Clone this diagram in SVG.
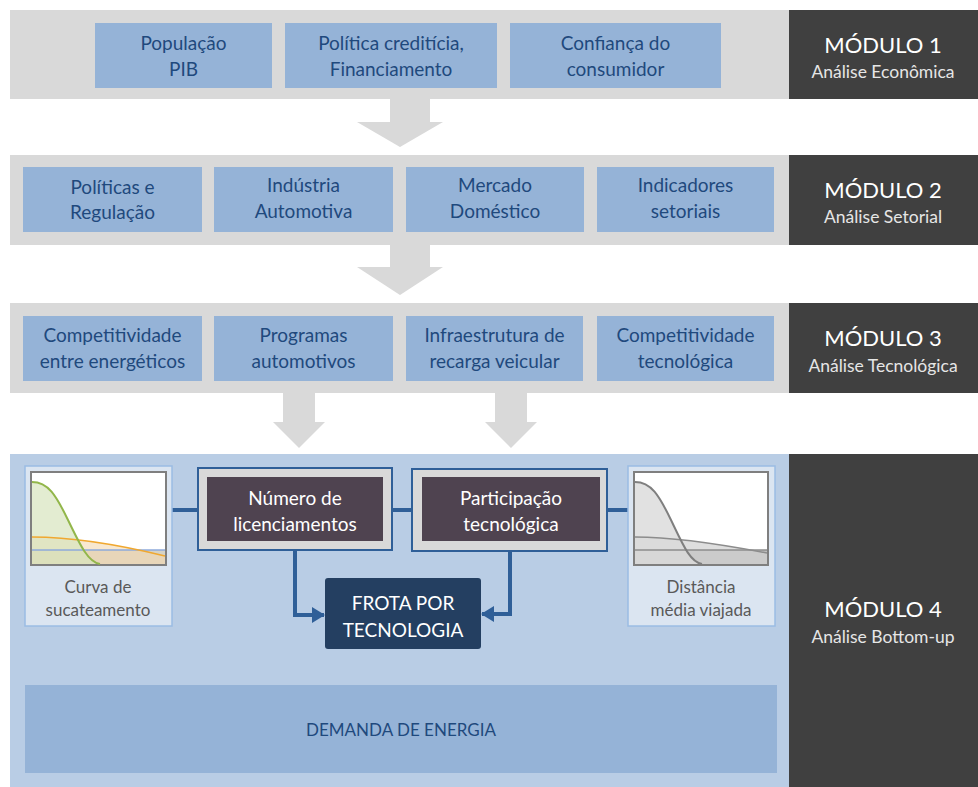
<svg xmlns="http://www.w3.org/2000/svg" width="978" height="787" viewBox="0 0 978 787">
<defs>
<style>
.band{fill:#d9d9d9}
.box{fill:#95b3d7}
.bt{font-family:Lato,"Liberation Sans",sans-serif;font-size:19px;fill:#1f497d;text-anchor:middle}
.dark{fill:#404040}
.mt{font-family:Lato,"Liberation Sans",sans-serif;font-size:22px;fill:#ffffff;text-anchor:middle}
.ms{font-family:Lato,"Liberation Sans",sans-serif;font-size:17.5px;fill:#e6e6e6;text-anchor:middle}
.garrow{fill:#d9d9d9}
.frame{fill:#d9d9d9;stroke:#2f5f98;stroke-width:2}
.inner{fill:#4f4350}
.wt{font-family:Lato,"Liberation Sans",sans-serif;font-size:19px;fill:#ffffff;text-anchor:middle}
.chartbox{fill:#dbe5f1;stroke:#9bbce3;stroke-width:1.5}
.chart{fill:#ffffff;stroke:#7f7f7f;stroke-width:2}
.ct{font-family:Lato,"Liberation Sans",sans-serif;font-size:17px;fill:#595959;text-anchor:middle}
.conn{fill:none;stroke:#2f5f98;stroke-width:4}
</style>
<marker id="ah" markerUnits="userSpaceOnUse" markerWidth="14" markerHeight="16" refX="12" refY="8" orient="auto">
<path d="M0,0 L13,8 L0,16 Z" fill="#2f5f98"/>
</marker>
</defs>

<!-- Module 1 -->
<g id="module1">
<rect class="band" x="10" y="10" width="779" height="89"/>
<rect class="dark" x="789" y="10" width="189" height="89"/>
<text class="mt" x="883" y="53">MÓDULO 1</text>
<text class="ms" x="883" y="78">Análise Econômica</text>
</g>
<g id="populacao">
<rect class="box" x="95" y="23" width="177" height="65"/>
<text class="bt" x="183.5" y="50">População</text>
<text class="bt" x="183.5" y="76">PIB</text>
</g>
<g id="politica-crediticia">
<rect class="box" x="285" y="23" width="212" height="65"/>
<text class="bt" x="391" y="50">Política creditícia,</text>
<text class="bt" x="391" y="76">Financiamento</text>
</g>
<g id="confianca">
<rect class="box" x="510" y="23" width="211" height="65"/>
<text class="bt" x="615.5" y="50">Confiança do</text>
<text class="bt" x="615.5" y="76">consumidor</text>
</g>

<!-- Module 2 -->
<g id="module2">
<rect class="band" x="10" y="155" width="779" height="90"/>
<rect class="dark" x="789" y="155" width="189" height="90"/>
<text class="mt" x="883" y="198">MÓDULO 2</text>
<text class="ms" x="883" y="223">Análise Setorial</text>
</g>
<g id="politicas-regulacao">
<rect class="box" x="23" y="167" width="179" height="65"/>
<text class="bt" x="112.5" y="194">Políticas  e</text>
<text class="bt" x="112.5" y="219">Regulação</text>
</g>
<g id="industria">
<rect class="box" x="214" y="167" width="179" height="65"/>
<text class="bt" x="303.5" y="192">Indústria</text>
<text class="bt" x="303.5" y="218">Automotiva</text>
</g>
<g id="mercado">
<rect class="box" x="406" y="167" width="178" height="65"/>
<text class="bt" x="495" y="192">Mercado</text>
<text class="bt" x="495" y="218">Doméstico</text>
</g>
<g id="indicadores">
<rect class="box" x="597" y="167" width="177" height="65"/>
<text class="bt" x="685.5" y="192">Indicadores</text>
<text class="bt" x="685.5" y="218">setoriais</text>
</g>

<!-- Module 3 -->
<g id="module3">
<rect class="band" x="10" y="303" width="779" height="90"/>
<rect class="dark" x="789" y="303" width="189" height="90"/>
<text class="mt" x="883" y="346">MÓDULO 3</text>
<text class="ms" x="883" y="372">Análise Tecnológica</text>
</g>
<g id="competitividade-energeticos">
<rect class="box" x="23" y="316" width="179" height="65"/>
<text class="bt" x="112.5" y="342">Competitividade</text>
<text class="bt" x="112.5" y="368">entre energéticos</text>
</g>
<g id="programas">
<rect class="box" x="214" y="316" width="179" height="65"/>
<text class="bt" x="303.5" y="342">Programas</text>
<text class="bt" x="303.5" y="368">automotivos</text>
</g>
<g id="infraestrutura">
<rect class="box" x="406" y="316" width="177" height="65"/>
<text class="bt" x="494.5" y="342">Infraestrutura de</text>
<text class="bt" x="494.5" y="368">recarga veicular</text>
</g>
<g id="competitividade-tecnologica">
<rect class="box" x="597" y="316" width="177" height="65"/>
<text class="bt" x="685.5" y="342">Competitividade</text>
<text class="bt" x="685.5" y="368">tecnológica</text>
</g>

<!-- Module 4 -->
<g id="module4">
<rect x="10" y="454" width="779" height="333" fill="#b9cde5"/>
<rect class="dark" x="789" y="454" width="189" height="333"/>
<text class="mt" x="883" y="617">MÓDULO 4</text>
<text class="ms" x="883" y="643">Análise Bottom-up</text>
</g>

<!-- Big gray arrows between modules -->
<g id="flow-arrows">
<polygon class="garrow" points="390,99 430,99 430,122 443,122 400,147 357,122 390,122"/>
<polygon class="garrow" points="390,245 430,245 430,267 443,267 400,295 357,267 390,267"/>
<polygon class="garrow" points="283,393 315,393 315,422 325,422 299,448 273,422 283,422"/>
<polygon class="garrow" points="495,393 527,393 527,422 537,422 511,448 485,422 495,422"/>
</g>

<!-- Connectors -->
<g id="connectors">
<line class="conn" x1="172" y1="510" x2="198" y2="510"/>
<line class="conn" x1="392" y1="510" x2="412" y2="510"/>
<line class="conn" x1="607" y1="510" x2="628" y2="510"/>
<path class="conn" d="M295,550 V615 H324" marker-end="url(#ah)"/>
<path class="conn" d="M510,551 V614 H482" marker-end="url(#ah)"/>
</g>

<g id="curva-sucateamento">
<rect class="chartbox" x="25" y="466" width="147" height="160"/>
<rect class="chart" x="31" y="472" width="135" height="93"/>
<path d="M32,550 H165 V564 H32 Z" fill="#d6d3c6"/>
<path d="M32,537 C70,537 120,545 165,556 V564 H32 Z" fill="#f4d9b0" opacity="0.6"/>
<path d="M32,482 C48,482 56,495 68,520 C80,545 88,562 100,564 H32 Z" fill="#d7e4bd" opacity="0.7"/>
<path d="M32,550 H165" stroke="#8eaadb" stroke-width="1.5" fill="none"/>
<path d="M32,537 C70,537 120,545 165,556" stroke="#f0a830" stroke-width="1.5" fill="none"/>
<path d="M32,482 C48,482 56,495 68,520 C80,545 88,562 100,564" stroke="#92b64a" stroke-width="2" fill="none"/>
<text class="ct" x="98" y="593">Curva de</text>
<text class="ct" x="98" y="616">sucateamento</text>
</g>

<g id="numero-licenciamentos">
<rect class="frame" x="198" y="468" width="194" height="82"/>
<rect class="inner" x="207" y="477" width="176" height="64"/>
<text class="wt" x="295" y="505">Número de</text>
<text class="wt" x="295" y="531">licenciamentos</text>
</g>

<g id="participacao-tecnologica">
<rect class="frame" x="412" y="469" width="195" height="82"/>
<rect class="inner" x="422" y="477" width="178" height="64"/>
<text class="wt" x="511" y="505">Participação</text>
<text class="wt" x="511" y="531">tecnológica</text>
</g>

<g id="distancia-media">
<rect class="chartbox" x="628" y="466" width="147" height="160"/>
<rect class="chart" x="634" y="472" width="134" height="93"/>
<path d="M635,550 H767 V564 H635 Z" fill="#bfbfbf"/>
<path d="M635,537 C675,537 725,545 767,553 V564 H635 Z" fill="#d0d0d0" opacity="0.7"/>
<path d="M635,482 C651,482 659,495 671,520 C683,545 690,562 702,564 H635 Z" fill="#d9d9d9" opacity="0.8"/>
<path d="M635,550 H767" stroke="#8c8c8c" stroke-width="1.5" fill="none"/>
<path d="M635,537 C675,537 725,545 767,553" stroke="#8c8c8c" stroke-width="1.5" fill="none"/>
<path d="M635,482 C651,482 659,495 671,520 C683,545 690,562 702,564" stroke="#7f7f7f" stroke-width="2" fill="none"/>
<text class="ct" x="701" y="593">Distância</text>
<text class="ct" x="701" y="616">média viajada</text>
</g>

<g id="frota">
<rect x="325" y="578" width="156" height="71" rx="3" fill="#243f61"/>
<text class="wt" x="403" y="610">FROTA POR</text>
<text class="wt" x="403" y="637">TECNOLOGIA</text>
</g>

<g id="demanda">
<rect x="25" y="685" width="752" height="88" fill="#95b3d7"/>
<text class="bt" x="401" y="736" style="font-size:17px">DEMANDA DE ENERGIA</text>
</g>
</svg>
